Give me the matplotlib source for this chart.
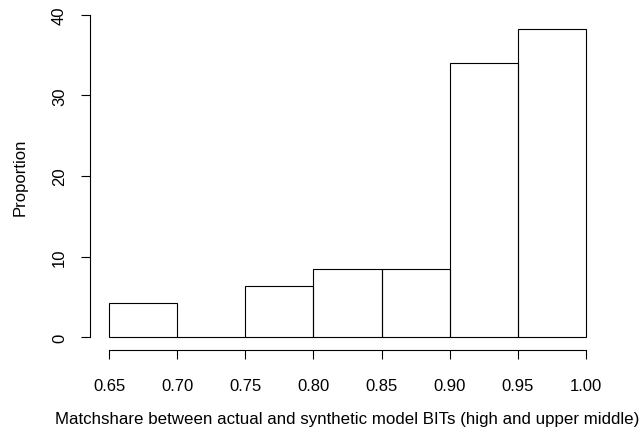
import numpy as np
import matplotlib
matplotlib.use('Agg')
import matplotlib.pyplot as plt
from matplotlib import rcParams

rcParams['font.family'] = ['Liberation Sans', 'DejaVu Sans']

# histogram breaks and proportions (percent)
bin_left = [0.65, 0.70, 0.75, 0.80, 0.85, 0.90, 0.95]
proportion = [4.26, 0.0, 6.38, 8.51, 8.51, 34.04, 38.30]
bin_width = 0.05
xticks = [0.65, 0.70, 0.75, 0.80, 0.85, 0.90, 0.95, 1.00]
xtick_labels = ['0.65', '0.70', '0.75', '0.80', '0.85', '0.90', '0.95', '1.00']
yticks = [0, 10, 20, 30, 40]

fig = plt.figure(figsize=(6.44, 4.39), dpi=100)
# plot region in pixels: x 90..605, y 3..351
ax = fig.add_axes([90/644, 1-351/439, 515/644, 348/439])

ax.bar(bin_left, proportion, width=bin_width, align='edge',
       fill=False, edgecolor='black', linewidth=0.8)

# R style 4% padding
ax.set_xlim(0.65 - 0.04*0.35, 1.00 + 0.04*0.35)
ax.set_ylim(0 - 0.04*40, 40 + 0.04*40)

for s in ['top', 'right']:
    ax.spines[s].set_visible(False)
ax.spines['left'].set_bounds(0, 40)
ax.spines['bottom'].set_bounds(0.65, 1.00)
ax.spines['left'].set_linewidth(0.8)
ax.spines['bottom'].set_linewidth(0.8)

ax.set_xticks(xticks)
ax.set_xticklabels(xtick_labels)
ax.set_yticks(yticks)
ax.set_yticklabels([str(v) for v in yticks], rotation=90, va='center')
ax.tick_params(axis='both', length=6.5, width=0.8, labelsize=12, colors='black')
ax.tick_params(axis='x', pad=13.5)
ax.tick_params(axis='y', pad=10)

ax.set_xlabel('Matchshare between actual and synthetic model BITs (high and upper middle)',
              fontsize=12.2, va='center')
ax.xaxis.set_label_coords(0.5, (351-420)/348)
ax.set_ylabel('Proportion', fontsize=12, va='center')
ax.yaxis.set_label_coords((20-90)/515, 0.5)

plt.savefig('out.png', dpi=100)
